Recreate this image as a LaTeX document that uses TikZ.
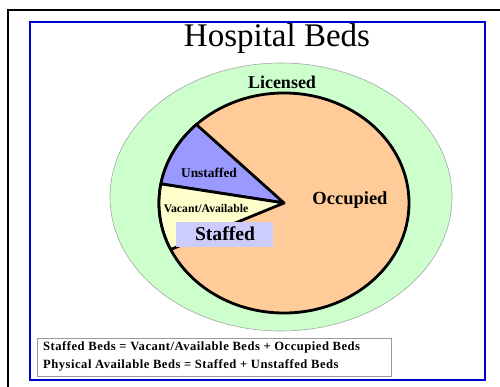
\documentclass[tikz,border=0pt]{standalone}
\usepackage{fontspec}
\setmainfont{Liberation Serif}
\definecolor{licgreen}{HTML}{CCFFCC}
\definecolor{occorange}{HTML}{FFCC99}
\definecolor{unstblue}{HTML}{9999FF}
\definecolor{vacyellow}{HTML}{FFFFCC}
\definecolor{stafblue}{HTML}{CCCCFF}
\definecolor{framblue}{HTML}{0000CC}
\begin{document}
\begin{tikzpicture}[x=1pt,y=1pt,
  slicestyle/.style={draw=black,line width=2.8pt,line join=round},
  lbl/.style={font=\bfseries,inner sep=0pt},
  eqline/.style={font=\bfseries\fontsize{12.6}{14}\selectfont\addfontfeature{LetterSpace=4},anchor=west,inner sep=0pt}]
\useasboundingbox (0,0) rectangle (500,387);
\fill[white] (0,0) rectangle (500,387);
% outer black frame
\draw[black,line width=2pt] (8,0) -- (8,377) -- (500,377);
% blue frame
\draw[framblue,line width=1.5pt] (30,7) rectangle (485,365);
% title
\node[anchor=base,inner sep=0pt,font=\fontsize{33}{38}\selectfont] (title) at (277,340) {Hospital Beds};
% licensed ellipse
\path[fill=licgreen,draw=black!35,line width=0.6pt] (281,190) ellipse [x radius=171, y radius=134];
\node[lbl,font=\bfseries\fontsize{18}{20}\selectfont] (lic) at (282,305) {Licensed};
% pie
\coordinate (pc) at (284,184);
\path[fill=occorange,slicestyle] (pc) ellipse [x radius=125, y radius=110];
\path[fill=unstblue,slicestyle] (pc) -- +(134.5:125 and 110) arc[start angle=134.5, end angle=170, x radius=125, y radius=110] -- cycle;
\path[fill=vacyellow,slicestyle] (pc) -- +(170:125 and 110) arc[start angle=170, end angle=205, x radius=125, y radius=110] -- cycle;
% labels
\node[lbl,font=\bfseries\fontsize{18.5}{21}\selectfont] (occ) at (350,187) {Occupied};
\node[lbl,font=\bfseries\fontsize{13.4}{15}\selectfont] (unst) at (209,214) {Unstaffed};
\node[lbl,font=\bfseries\fontsize{11.7}{13}\selectfont] (vac) at (206,178) {Vacant/Available};
\node[fill=stafblue,minimum width=97pt,minimum height=25pt,inner sep=0pt] (stafbox) at (224.5,152.5) {};
\node[lbl,font=\bfseries\fontsize{19.6}{22}\selectfont] (staf) at (225,153) {Staffed};
% equations box
\node[draw=black!40,line width=0.8pt,minimum width=354pt,minimum height=38pt,inner sep=0pt] (eqbox) at (214,30) {};
\node[eqline] (eq1) at (43,40) {Staffed Beds = Vacant/Available Beds + Occupied Beds};
\node[eqline] (eq2) at (43,22) {Physical Available Beds = Staffed + Unstaffed Beds};
\end{tikzpicture}
\end{document}
